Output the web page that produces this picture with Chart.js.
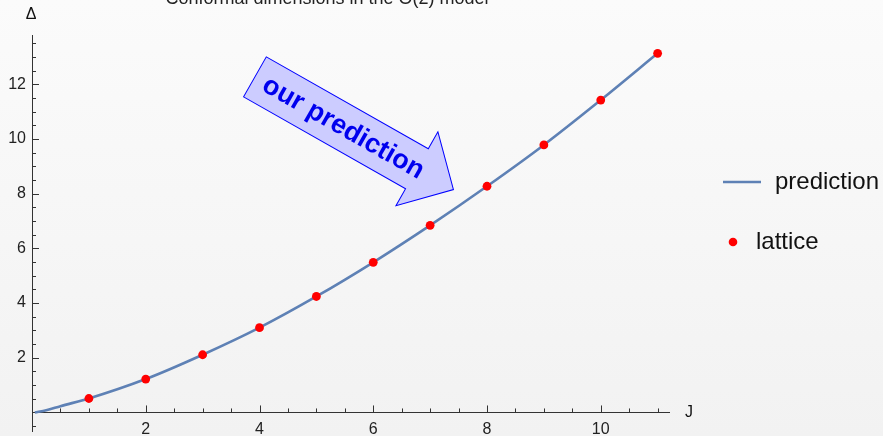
<!DOCTYPE html>
<html>
<head>
<meta charset="utf-8">
<script src="https://cdn.jsdelivr.net/npm/chart.js@4/dist/chart.umd.min.js"></script>
<style>
  html, body { margin: 0; padding: 0; background: #f6f6f6; }
  #wrap { width: 883px; height: 436px; }
</style>
</head>
<body>
<div id="wrap"><canvas id="c" width="883" height="436"></canvas></div>
<script>
// Lattice measurements of the lowest operator dimension at each charge J
const latticeJ = [1, 2, 3, 4, 5, 6, 7, 8, 9, 10, 11];
const latticeDelta = [0.51, 1.22, 2.11, 3.10, 4.24, 5.49, 6.84, 8.27, 9.78, 11.42, 13.13];

// Large-charge prediction, sampled along the curve
const predictionJ = [0.05, 0.25, 0.5, 1, 2, 3, 4, 5, 6, 7, 8, 9, 10, 11];
const predictionDelta = [0, 0.08, 0.23, 0.51, 1.22, 2.11, 3.10, 4.24, 5.49, 6.84, 8.27, 9.78, 11.42, 13.13];

// Labelled ticks on each axis; unlabelled minor ticks every half unit
const xLabelTicks = [2, 4, 6, 8, 10];
const yLabelTicks = [2, 4, 6, 8, 10, 12];
const minorStep = 0.5;

const seriesNames = ['prediction', 'lattice'];
const titleText = 'Conformal dimensions in the O(2) model';
const arrowText = 'our prediction';

const FONT = '"Liberation Sans", Arial, Helvetica, sans-serif';
const LINE_COLOR = '#5e81b5';
const DOT_COLOR = '#ff0000';
const AXIS_COLOR = '#333333';

// half-unit tick positions inside the axis range
function halfUnitTicks(scale) {
  const ticks = [];
  const start = Math.ceil(scale.min / minorStep);
  const end = Math.floor(scale.max / minorStep);
  for (let k = start; k <= end; k++) ticks.push({ value: k * minorStep });
  scale.ticks = ticks;
}

const decor = {
  id: 'decor',
  beforeDraw(chart) {
    const { ctx, width, height } = chart;
    const g = ctx.createLinearGradient(0, 0, 0, height);
    g.addColorStop(0, '#fbfbfb');
    g.addColorStop(1, '#f2f2f2');
    ctx.save();
    ctx.fillStyle = g;
    ctx.fillRect(0, 0, width, height);
    ctx.restore();
  },
  afterDraw(chart, args, opts) {
    const { ctx } = chart;
    const xs = chart.scales.x, ys = chart.scales.y;
    const x0 = xs.getPixelForValue(0);
    const y0 = ys.getPixelForValue(0);

    ctx.save();
    // inward tick marks
    ctx.strokeStyle = AXIS_COLOR;
    ctx.lineWidth = 1;
    ctx.beginPath();
    xs.ticks.forEach(t => {
      if (t.value === 0) return;
      const px = Math.round(xs.getPixelForValue(t.value)) + 0.5;
      const len = xLabelTicks.includes(t.value) ? 7 : 4;
      ctx.moveTo(px, y0);
      ctx.lineTo(px, y0 - len);
    });
    ys.ticks.forEach(t => {
      if (t.value === 0) return;
      const py = Math.round(ys.getPixelForValue(t.value)) + 0.5;
      const len = yLabelTicks.includes(t.value) ? 7 : 4;
      ctx.moveTo(x0, py);
      ctx.lineTo(x0 + len, py);
    });
    ctx.stroke();

    // axis names
    ctx.fillStyle = '#111';
    ctx.font = '16px ' + FONT;
    ctx.textAlign = 'center';
    ctx.textBaseline = 'alphabetic';
    ctx.fillText('\u0394', x0 - 1, chart.chartArea.top - 16);
    ctx.textAlign = 'left';
    ctx.textBaseline = 'middle';
    ctx.fillText('J', xs.right + 16, y0);

    // title (runs off the top edge)
    ctx.fillStyle = '#222';
    ctx.font = '18px ' + FONT;
    ctx.textAlign = 'center';
    ctx.textBaseline = 'alphabetic';
    ctx.fillText(titleText, 327, 4);

    // legend
    const lx = xs.right + 54;
    ctx.strokeStyle = LINE_COLOR;
    ctx.lineWidth = 2.6;
    ctx.beginPath();
    ctx.moveTo(lx, 182);
    ctx.lineTo(lx + 38, 182);
    ctx.stroke();
    ctx.fillStyle = DOT_COLOR;
    ctx.beginPath();
    ctx.arc(lx + 10, 242, 4.3, 0, Math.PI * 2);
    ctx.fill();
    ctx.fillStyle = '#111';
    ctx.font = '24px ' + FONT;
    ctx.textAlign = 'left';
    ctx.fillText(seriesNames[0], lx + 52, 189);
    ctx.fillText(seriesNames[1], lx + 33, 249);

    // annotation arrow, anchored in data coordinates
    const tail = { x: xs.getPixelForValue(opts.tail.x), y: ys.getPixelForValue(opts.tail.y) };
    const tip = { x: xs.getPixelForValue(opts.tip.x), y: ys.getPixelForValue(opts.tip.y) };
    const len = Math.hypot(tip.x - tail.x, tip.y - tail.y);
    const ang = Math.atan2(tip.y - tail.y, tip.x - tail.x);
    const hl = 42, bw = 23, hw = 42.5, bl = len - hl;
    ctx.translate(tail.x, tail.y);
    ctx.rotate(ang);
    ctx.beginPath();
    ctx.moveTo(0, -bw);
    ctx.lineTo(bl, -bw);
    ctx.lineTo(bl, -hw);
    ctx.lineTo(len, 0);
    ctx.lineTo(bl, hw);
    ctx.lineTo(bl, bw);
    ctx.lineTo(0, bw);
    ctx.closePath();
    ctx.fillStyle = '#ccccff';
    ctx.fill();
    ctx.strokeStyle = '#0000ff';
    ctx.lineWidth = 1;
    ctx.stroke();
    ctx.fillStyle = '#0000ee';
    ctx.font = 'bold 27px ' + FONT;
    ctx.textAlign = 'center';
    ctx.textBaseline = 'middle';
    ctx.fillText(arrowText, 102, 1);
    ctx.restore();
  }
};

new Chart(document.getElementById('c'), {
  type: 'scatter',
  data: {
    datasets: [
      {
        label: seriesNames[0],
        data: predictionJ.map((x, i) => ({ x, y: predictionDelta[i] })),
        showLine: true,
        borderColor: LINE_COLOR,
        borderWidth: 2.6,
        pointRadius: 0,
        cubicInterpolationMode: 'monotone',
        fill: false,
        order: 2
      },
      {
        label: seriesNames[1],
        data: latticeJ.map((x, i) => ({ x, y: latticeDelta[i] })),
        showLine: false,
        pointRadius: 4.4,
        pointBackgroundColor: DOT_COLOR,
        backgroundColor: DOT_COLOR,
        pointBorderWidth: 0,
        borderWidth: 0,
        order: 1
      }
    ]
  },
  options: {
    responsive: false,
    animation: false,
    devicePixelRatio: 1,
    layout: { padding: { left: 0, top: 35, right: 214, bottom: 3 } },
    plugins: {
      legend: { display: false },
      tooltip: { enabled: false },
      decor: { tail: { x: 3.92, y: 12.27 }, tip: { x: 7.41, y: 8.15 } }
    },
    scales: {
      x: {
        type: 'linear',
        min: 0,
        max: 11.2,
        position: { y: 0 },
        grid: { display: false, drawTicks: false },
        border: { display: true, color: AXIS_COLOR, width: 1 },
        ticks: {
          autoSkip: false,
          maxRotation: 0,
          padding: 8,
          color: '#222',
          font: { size: 16, family: FONT },
          callback: v => xLabelTicks.includes(v) ? String(v) : ''
        },
        afterBuildTicks: halfUnitTicks,
        afterFit: s => { s.height = 0; s.paddingLeft = 0; s.paddingRight = 0; }
      },
      y: {
        type: 'linear',
        min: -0.7,
        max: 13.8,
        position: 'left',
        grid: { display: false, drawTicks: false },
        border: { display: true, color: AXIS_COLOR, width: 1 },
        ticks: {
          autoSkip: false,
          padding: 6,
          color: '#222',
          font: { size: 16, family: FONT },
          callback: v => yLabelTicks.includes(v) ? String(v) : ''
        },
        afterBuildTicks: halfUnitTicks,
        afterFit: s => { s.width = 32; s.paddingTop = 0; s.paddingBottom = 0; }
      }
    }
  },
  plugins: [decor]
});
</script>
</body>
</html>
